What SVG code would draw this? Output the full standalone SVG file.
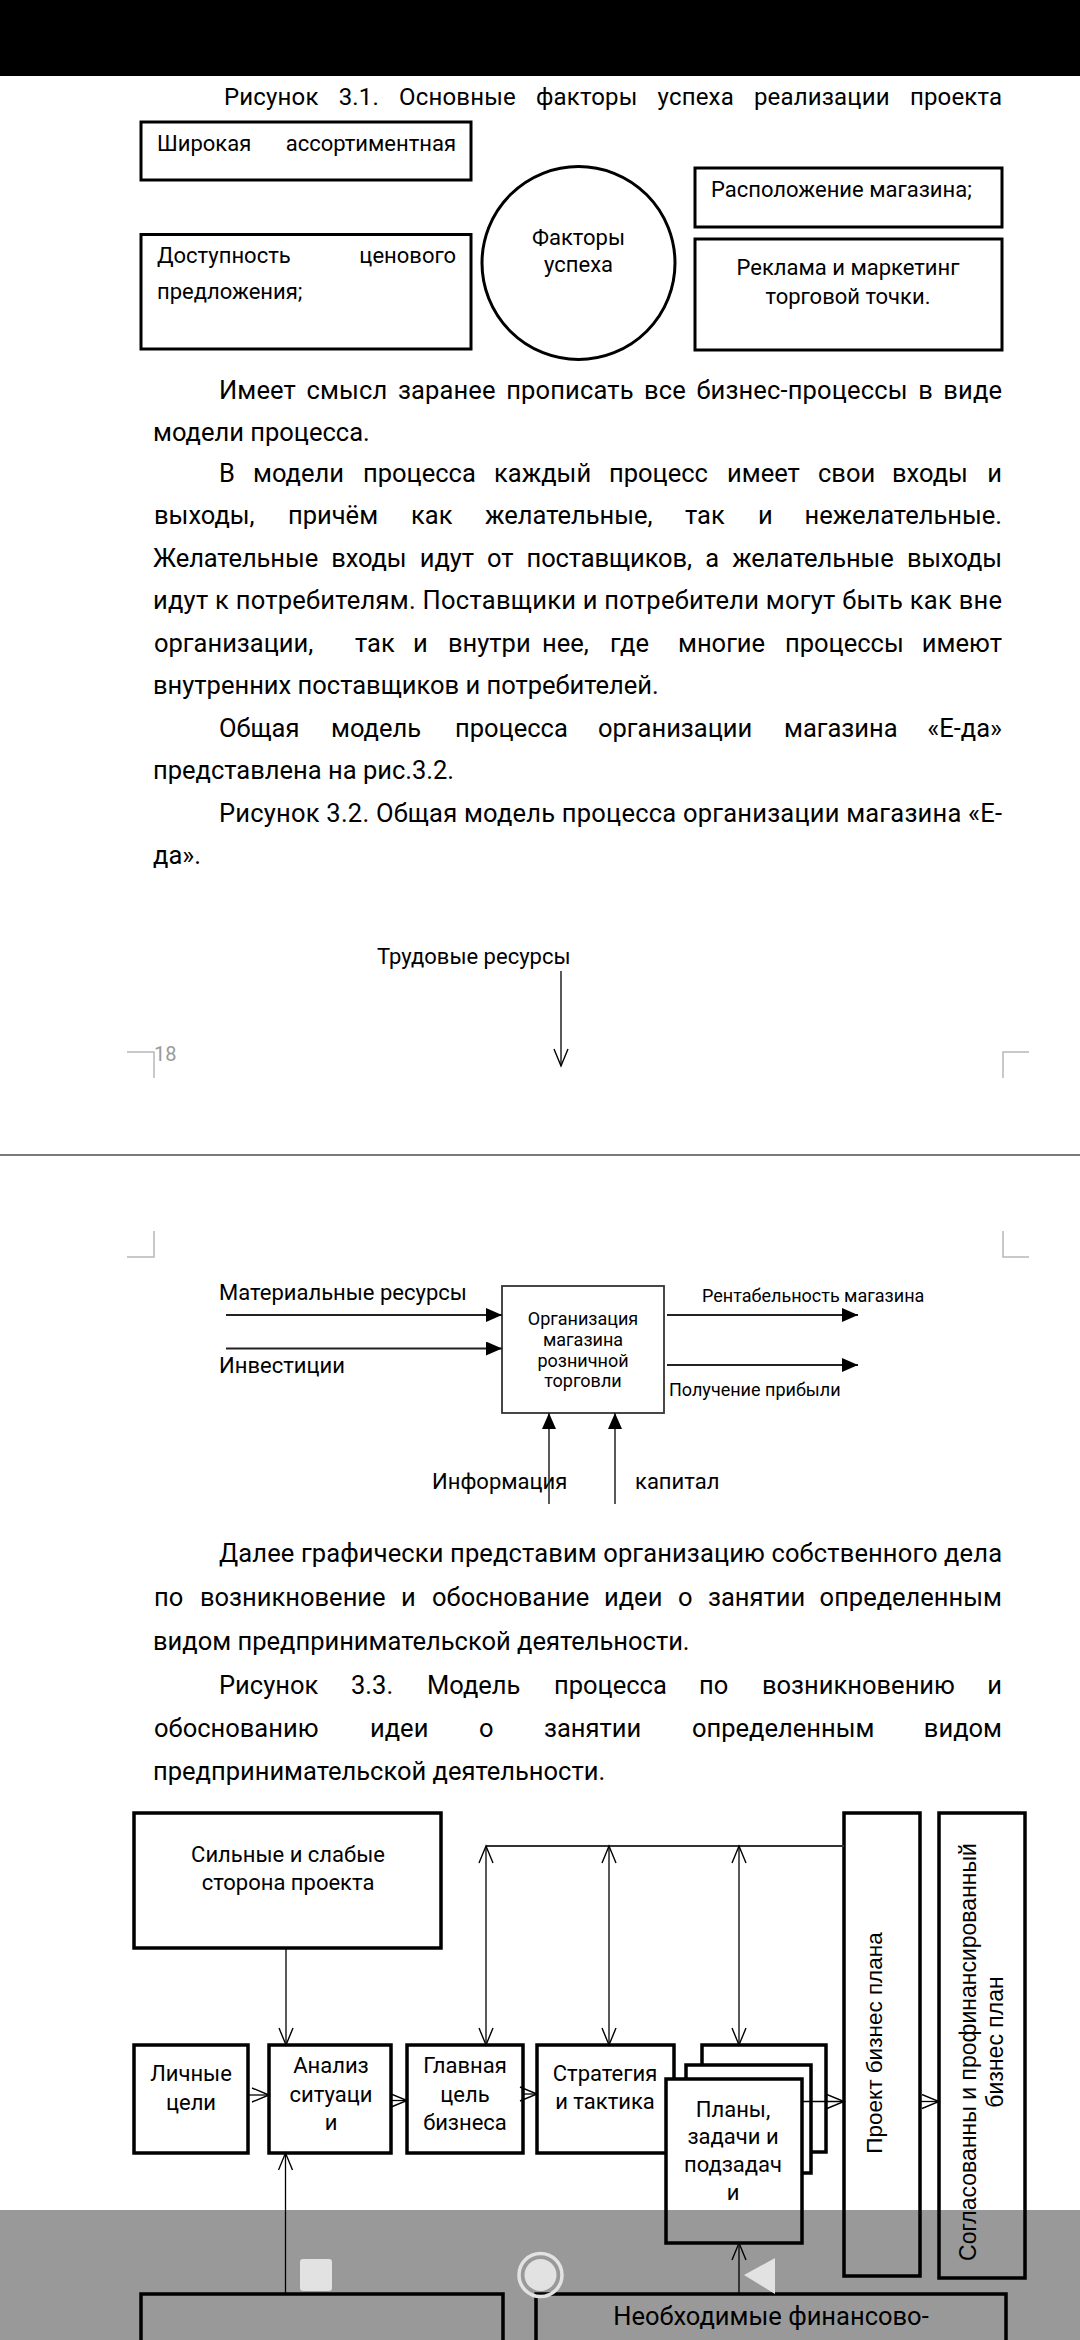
<svg xmlns="http://www.w3.org/2000/svg" width="1080" height="2340" viewBox="0 0 1080 2340">
<style>
text{font-family:Roboto,"Noto Sans","DejaVu Sans",sans-serif;fill:#000}
.b{font-size:25.5px}
.t{font-size:24px}
.s22{font-size:22px}
.s18{font-size:18px}
.ar{font-family:"Liberation Sans",Arial,sans-serif;font-size:22.5px}
.ar2{font-family:"Liberation Sans",Arial,sans-serif;font-size:23px}
.e{text-anchor:end}
.m{text-anchor:middle}
.box3{fill:#fff;stroke:#000;stroke-width:3}
.box35{fill:#fff;stroke:#000;stroke-width:3.5}
.thin{stroke:#000;stroke-width:1.3;fill:none}
.corner{stroke:#b8b8b8;stroke-width:1.5;fill:none}
</style>
<defs>
<marker id="v" viewBox="0 0 20 16" refX="18" refY="8" markerWidth="20" markerHeight="16" markerUnits="userSpaceOnUse" orient="auto-start-reverse">
<path d="M1,1 L18,8 L1,15" fill="none" stroke="#000" stroke-width="1.4"/>
</marker>
<marker id="f" viewBox="0 0 16 14" refX="16" refY="7" markerWidth="16" markerHeight="14" markerUnits="userSpaceOnUse" orient="auto">
<path d="M0,0 L16,7 L0,14 Z" fill="#000"/>
</marker>
</defs>
<rect x="0" y="0" width="1080" height="2340" fill="#fff"/>
<rect x="0" y="0" width="1080" height="76" fill="#000"/>

<!-- Title 3.1 -->
<text class="t" x="224" y="105" word-spacing="14" textLength="778" lengthAdjust="spacing">Рисунок 3.1. Основные факторы успеха реализации проекта</text>

<!-- Figure 3.1 -->
<g id="f1-box1"><rect class="box3" x="141" y="122" width="330" height="58"/>
<text class="s22" x="157" y="151">Широкая</text><text class="s22 e" x="456" y="151">ассортиментная</text></g>
<g id="f1-box2"><rect class="box3" x="141" y="234.5" width="330" height="114.5"/>
<text class="s22" x="157" y="263">Доступность</text><text class="s22 e" x="456" y="263">ценового</text>
<text class="s22" x="157" y="299">предложения;</text></g>
<g id="f1-circle"><circle cx="578.5" cy="263" r="96.5" fill="#fff" stroke="#000" stroke-width="3"/>
<text class="s22 m" x="578.5" y="245">Факторы</text><text class="s22 m" x="578.5" y="272">успеха</text></g>
<g id="f1-box3"><rect class="box3" x="695" y="168" width="307" height="59"/>
<text class="s22" x="711" y="197">Расположение магазина;</text></g>
<g id="f1-box4"><rect class="box3" x="695" y="239" width="307" height="111"/>
<text class="s22 m" x="848" y="275">Реклама и маркетинг</text><text class="s22 m" x="848" y="304">торговой точки.</text></g>

<!-- Paragraphs -->
<text class="b" x="219" y="399" word-spacing="4" textLength="783" lengthAdjust="spacing">Имеет смысл заранее прописать все бизнес-процессы в виде</text>
<text class="b" x="153" y="441">модели процесса.</text>
<text class="b" y="482"><tspan x="219">В</tspan><tspan x="253">модели</tspan><tspan x="363">процесса</tspan><tspan x="494">каждый</tspan><tspan x="609">процесс</tspan><tspan x="727">имеет</tspan><tspan x="818">свои</tspan><tspan x="892">входы</tspan></text>
<text class="b e" x="1002" y="482">и</text>
<text class="b" y="524"><tspan x="154">выходы,</tspan><tspan x="288">причём</tspan><tspan x="411">как</tspan><tspan x="485">желательные,</tspan><tspan x="685">так</tspan><tspan x="758">и</tspan></text>
<text class="b e" x="1002" y="524">нежелательные.</text>
<text class="b" x="153" y="567" word-spacing="7" textLength="849" lengthAdjust="spacing">Желательные входы идут от поставщиков, а желательные выходы</text>
<text class="b" x="153" y="609" textLength="849" lengthAdjust="spacing">идут к потребителям. Поставщики и потребители могут быть как вне</text>
<text class="b" y="652"><tspan x="154">организации,</tspan><tspan x="355">так</tspan><tspan x="413">и</tspan><tspan x="448">внутри</tspan><tspan x="542">нее,</tspan><tspan x="610">где</tspan><tspan x="678">многие</tspan><tspan x="785">процессы</tspan></text>
<text class="b e" x="1002" y="652">имеют</text>
<text class="b" x="153" y="694">внутренних поставщиков и потребителей.</text>
<text class="b" y="737"><tspan x="219">Общая</tspan><tspan x="331">модель</tspan><tspan x="455">процесса</tspan><tspan x="598">организации</tspan><tspan x="784">магазина</tspan></text>
<text class="b e" x="1002" y="737">«Е-да»</text>
<text class="b" x="153" y="779">представлена на рис.3.2.</text>
<text class="b" x="219" y="822" textLength="783" lengthAdjust="spacing">Рисунок 3.2. Общая модель процесса организации магазина «Е-</text>
<text class="b" x="153" y="864">да».</text>

<!-- Page break -->
<g id="page-marks">
<path class="corner" d="M127,1052 H154 V1078 M1029,1052 H1003 V1078 M154,1231 V1257 H127 M1003,1231 V1257 H1029"/>
<text x="154" y="1061" style="font-size:20px;fill:#9a9a9a">18</text>
<line x1="0" y1="1155" x2="1080" y2="1155" stroke="#7a7a7a" stroke-width="2"/>
</g>

<!-- Figure 3.2 -->
<g id="f2-process"><rect x="502" y="1286" width="162" height="127" fill="#fff" stroke="#333" stroke-width="1.8"/>
<text class="s18 m" x="583" y="1325">Организация</text><text class="s18 m" x="583" y="1346">магазина</text>
<text class="s18 m" x="583" y="1367">розничной</text><text class="s18 m" x="583" y="1387">торговли</text></g>
<g id="f2-labels">
<text class="s22" x="377" y="964">Трудовые ресурсы</text>
<text class="s22" x="219" y="1300">Материальные ресурсы</text>
<text class="s22" x="219" y="1373">Инвестиции</text>
<text class="s18" x="702" y="1302">Рентабельность магазина</text>
<text class="s18" x="669" y="1396">Получение прибыли</text>
<text class="s22" x="432" y="1489">Информация</text>
<text class="s22" x="635" y="1489">капитал</text>
</g>
<g id="f2-connectors">
<line class="thin" x1="561" y1="971" x2="561" y2="1066" marker-end="url(#v)"/>
<line x1="226" y1="1315" x2="502" y2="1315" stroke="#222" stroke-width="2" marker-end="url(#f)"/>
<line x1="226" y1="1348.5" x2="502" y2="1348.5" stroke="#222" stroke-width="2" marker-end="url(#f)"/>
<line x1="667" y1="1315" x2="858" y2="1315" stroke="#222" stroke-width="2.2" marker-end="url(#f)"/>
<line x1="667" y1="1365" x2="858" y2="1365" stroke="#222" stroke-width="2.2" marker-end="url(#f)"/>
<line x1="549" y1="1504" x2="549" y2="1413" stroke="#222" stroke-width="1.5" marker-end="url(#f)"/>
<line x1="615" y1="1504" x2="615" y2="1413" stroke="#222" stroke-width="1.5" marker-end="url(#f)"/>
</g>

<!-- Paragraph 3.3 -->
<text class="b" x="219" y="1562" textLength="783" lengthAdjust="spacing">Далее графически представим организацию собственного дела</text>
<text class="b" y="1606"><tspan x="154">по</tspan><tspan x="200">возникновение</tspan><tspan x="401">и</tspan><tspan x="432">обоснование</tspan><tspan x="604">идеи</tspan><tspan x="678">о</tspan><tspan x="708">занятии</tspan></text>
<text class="b e" x="1002" y="1606">определенным</text>
<text class="b" x="153" y="1650">видом предпринимательской деятельности.</text>
<text class="b" y="1694"><tspan x="219">Рисунок</tspan><tspan x="351">3.3.</tspan><tspan x="427">Модель</tspan><tspan x="554">процесса</tspan><tspan x="699">по</tspan><tspan x="762">возникновению</tspan></text>
<text class="b e" x="1002" y="1694">и</text>
<text class="b" y="1737"><tspan x="154">обоснованию</tspan><tspan x="370">идеи</tspan><tspan x="479">о</tspan><tspan x="544">занятии</tspan><tspan x="692">определенным</tspan></text>
<text class="b e" x="1002" y="1737">видом</text>
<text class="b" x="153" y="1780">предпринимательской деятельности.</text>

<!-- Figure 3.3 -->
<g id="f3-strengths"><rect class="box35" x="134" y="1813" width="307" height="135"/>
<text class="s22 m" x="288" y="1862">Сильные и слабые</text><text class="s22 m" x="288" y="1890">сторона проекта</text></g>
<g id="f3-personal"><rect class="box35" x="134" y="2045" width="114" height="108"/>
<text class="s22 m" x="191" y="2081">Личные</text><text class="s22 m" x="191" y="2110">цели</text></g>
<g id="f3-analysis"><rect class="box35" x="269" y="2045" width="122" height="108"/>
<text class="s22 m" x="331" y="2073">Анализ</text><text class="s22 m" x="331" y="2102">ситуаци</text><text class="s22 m" x="331" y="2130">и</text></g>
<g id="f3-goal"><rect class="box35" x="407" y="2045" width="116" height="108"/>
<text class="s22 m" x="465" y="2073">Главная</text><text class="s22 m" x="465" y="2102">цель</text><text class="s22 m" x="465" y="2130">бизнеса</text></g>
<g id="f3-strategy"><rect class="box35" x="537" y="2045" width="137" height="108"/>
<text class="s22 m" x="605" y="2081">Стратегия</text><text class="s22 m" x="605" y="2109">и тактика</text></g>
<g id="f3-plans">
<rect class="box35" x="702" y="2045" width="124" height="107"/>
<rect class="box35" x="686" y="2065" width="125" height="108"/>
<rect class="box35" x="666" y="2079" width="136" height="164"/>
<text class="s22 m" x="733" y="2117">Планы,</text><text class="s22 m" x="733" y="2144">задачи и</text>
<text class="s22 m" x="733" y="2172">подзадач</text><text class="s22 m" x="733" y="2200">и</text></g>
<g id="f3-project"><rect class="box35" x="844" y="1813" width="76" height="463"/>
<text class="ar m" transform="translate(882,2043) rotate(-90)">Проект бизнес плана</text></g>
<g id="f3-approved"><rect class="box35" x="939" y="1813" width="86" height="465"/>
<text class="ar2 m" transform="translate(976,2052) rotate(-90)">Согласованны и профинансированный</text>
<text class="ar2 m" transform="translate(1003,2042) rotate(-90)">бизнес план</text></g>
<g id="f3-bottom-left"><rect class="box35" x="141" y="2294" width="362" height="100"/></g>
<g id="f3-bottom-right"><rect class="box35" x="536" y="2294" width="470" height="100"/>
<text class="b m" x="771" y="2325">Необходимые финансово-</text></g>

<g id="f3-connectors">
<line x1="486" y1="1846" x2="844" y2="1846" stroke="#333" stroke-width="2"/>
<line class="thin" x1="286" y1="1948" x2="286" y2="2045" marker-end="url(#v)"/>
<line class="thin" x1="486" y1="1846" x2="486" y2="2045" marker-start="url(#v)" marker-end="url(#v)"/>
<line class="thin" x1="609" y1="1846" x2="609" y2="2045" marker-start="url(#v)" marker-end="url(#v)"/>
<line class="thin" x1="739" y1="1846" x2="739" y2="2045" marker-start="url(#v)" marker-end="url(#v)"/>
<line class="thin" x1="248" y1="2095" x2="269" y2="2095" marker-end="url(#v)"/>
<line class="thin" x1="391" y1="2100.5" x2="407" y2="2100.5" marker-end="url(#v)"/>
<line class="thin" x1="523" y1="2094" x2="537" y2="2094" marker-end="url(#v)"/>
<line class="thin" x1="802" y1="2101.5" x2="844" y2="2101.5" marker-end="url(#v)"/>
<line class="thin" x1="920" y1="2101.5" x2="939" y2="2101.5" marker-end="url(#v)"/>
<line class="thin" x1="285.5" y1="2294" x2="285.5" y2="2153" marker-end="url(#v)"/>
<line class="thin" x1="739" y1="2294" x2="739" y2="2243" marker-end="url(#v)"/>
</g>

<!-- Navigation bar overlay -->
<rect x="0" y="2210" width="1080" height="130" fill="#000" fill-opacity="0.4"/>
<rect x="300" y="2259" width="32" height="32" rx="3" fill="#e2e2e2"/>
<circle cx="540.5" cy="2275" r="21.5" fill="none" stroke="#e2e2e2" stroke-width="3.5"/>
<circle cx="540.5" cy="2275" r="16" fill="#e2e2e2"/>
<path d="M744,2275 L775,2258 L775,2294 Z" fill="#e2e2e2"/>
</svg>
